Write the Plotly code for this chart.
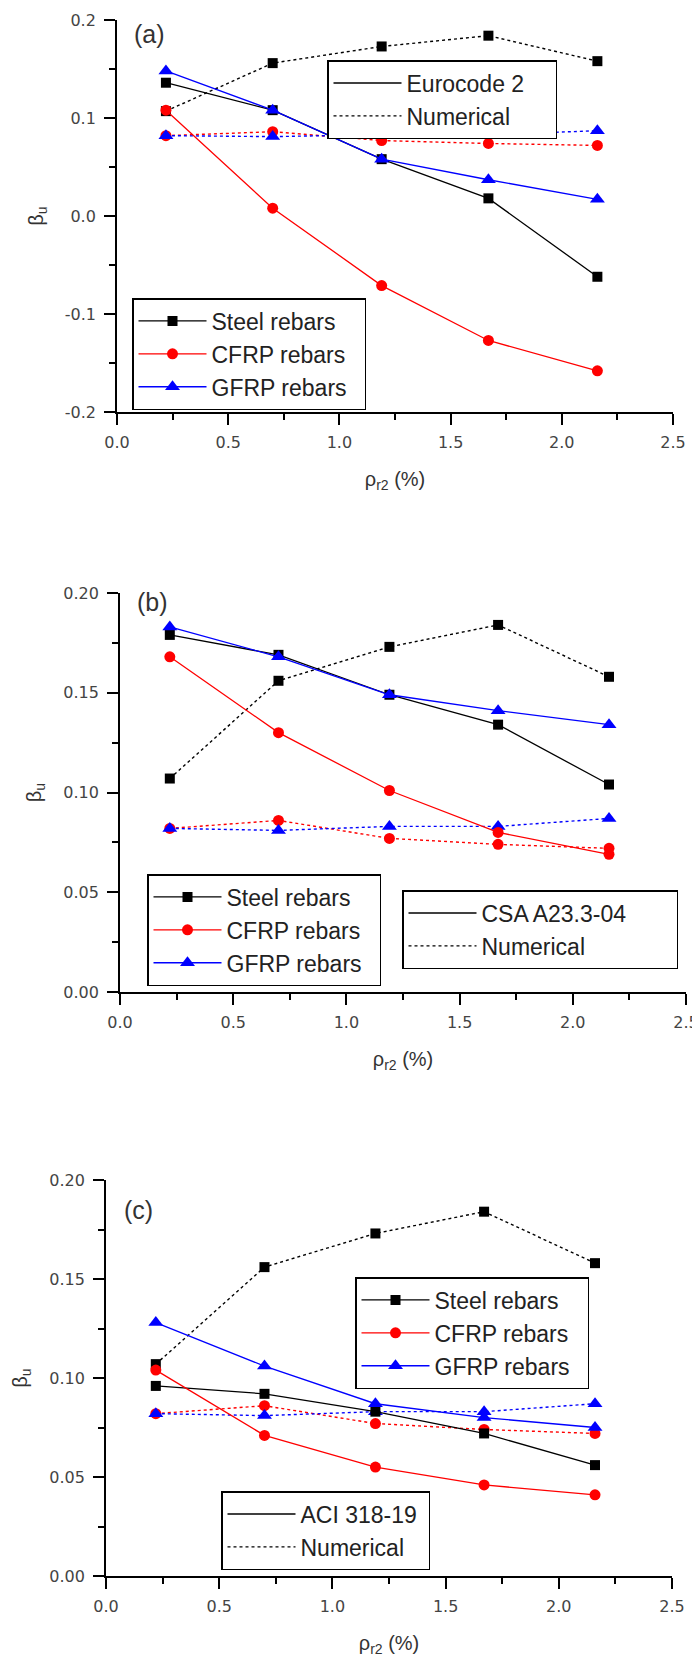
import plotly.graph_objects as go

# ---------------- data ----------------
rho = [0.22, 0.70, 1.19, 1.67, 2.16]

# Numerical results (same in every panel)
steel_num = [0.107, 0.156, 0.173, 0.184, 0.158]
cfrp_num = [0.082, 0.086, 0.077, 0.074, 0.072]
gfrp_num = [0.082, 0.081, 0.083, 0.083, 0.087]

# (a) Eurocode 2
steel_ec2 = [0.136, 0.108, 0.058, 0.018, -0.062]
cfrp_ec2 = [0.108, 0.008, -0.071, -0.127, -0.158]
gfrp_ec2 = [0.148, 0.108, 0.058, 0.037, 0.017]

# (b) CSA A23.3-04
steel_csa = [0.179, 0.169, 0.149, 0.134, 0.104]
cfrp_csa = [0.168, 0.130, 0.101, 0.080, 0.069]
gfrp_csa = [0.183, 0.168, 0.149, 0.141, 0.134]

# (c) ACI 318-19
steel_aci = [0.096, 0.092, 0.083, 0.072, 0.056]
cfrp_aci = [0.104, 0.071, 0.055, 0.046, 0.041]
gfrp_aci = [0.128, 0.106, 0.087, 0.080, 0.075]

series_names = ["Steel rebars", "CFRP rebars", "GFRP rebars"]
panel_labels = ["(a)", "(b)", "(c)"]
code_names = ["Eurocode 2", "CSA A23.3-04", "ACI 318-19"]
num_name = "Numerical"

x_ticks = [0, 0.5, 1.0, 1.5, 2.0, 2.5]
x_ticktext = ["0.0", "0.5", "1.0", "1.5", "2.0", "2.5"]
ya_ticks = [-0.2, -0.1, 0.0, 0.1, 0.2]
ya_ticktext = ["-0.2", "-0.1", "0.0", "0.1", "0.2"]
ybc_ticks = [0.0, 0.05, 0.10, 0.15, 0.20]
ybc_ticktext = ["0.00", "0.05", "0.10", "0.15", "0.20"]

# ---------------- style ----------------
OFF = 8                      # page body margin added by the browser
W, H = 700 - OFF, 1663 - OFF
FONT = "Liberation Sans, Arial, sans-serif"
WIDE = "DejaVu Sans, Verdana, sans-serif"
colors = ["#000000", "#ff0000", "#0000ff"]
symbols = ["square", "circle", "triangle-up"]
msizes = [10, 11, 13]
DOT = "3px,3px"
NB = "\u00a0"
series_pad = 2               # right padding (nbsp) in the series legends
style_pad = [4, 7, 1]        # right padding (nbsp) in the line-style legends

# pixel boxes (in page pixels) of the three plot areas: (left, right, top, bottom)
boxes = [(117, 673, 20, 412), (120, 686, 593, 992), (106, 672, 1180, 1576)]

def px(v):
    return (v - OFF) / W

def py(v):
    return 1 - (v - OFF) / H

fig = go.Figure()

code_data = [
    [steel_ec2, cfrp_ec2, gfrp_ec2],
    [steel_csa, cfrp_csa, gfrp_csa],
    [steel_aci, cfrp_aci, gfrp_aci],
]
num_data = [steel_num, cfrp_num, gfrp_num]

for p in range(3):
    xa = "x" if p == 0 else f"x{p+1}"
    ya = "y" if p == 0 else f"y{p+1}"
    leg_series = f"legend{2*p+1}" if p > 0 else "legend"
    leg_style = f"legend{2*p+2}"
    # numerical (dotted) series
    for i in range(3):
        fig.add_trace(go.Scatter(
            x=rho, y=num_data[i], mode="lines+markers", xaxis=xa, yaxis=ya,
            line=dict(color=colors[i], width=1.4, dash=DOT),
            marker=dict(symbol=symbols[i], size=msizes[i], color=colors[i]),
            showlegend=False, name=f"{series_names[i]} ({num_name})"))
    # code (solid) series
    for i in range(3):
        fig.add_trace(go.Scatter(
            x=rho, y=code_data[p][i], mode="lines+markers", xaxis=xa, yaxis=ya,
            line=dict(color=colors[i], width=1.3),
            marker=dict(symbol=symbols[i], size=msizes[i], color=colors[i]),
            name=series_names[i] + NB * series_pad, legend=leg_series))
    # line-style legend entries
    fig.add_trace(go.Scatter(
        x=[None], y=[None], mode="lines", xaxis=xa, yaxis=ya,
        line=dict(color="black", width=1.4), name=code_names[p] + NB * style_pad[p],
        legend=leg_style))
    fig.add_trace(go.Scatter(
        x=[None], y=[None], mode="lines", xaxis=xa, yaxis=ya,
        line=dict(color="black", width=1.4, dash=DOT), name=num_name, legend=leg_style))

axis_common = dict(
    showline=True, linecolor="black", linewidth=1.8, mirror=False,
    showgrid=False, zeroline=False, ticks="outside", ticklen=11, tickwidth=1.8,
    tickcolor="black", tickfont=dict(family=WIDE, size=16, color="#444"),
    automargin=False,
)

layout = dict(
    width=W, height=H, margin=dict(l=0, r=0, t=0, b=0),
    paper_bgcolor="white", plot_bgcolor="white",
    font=dict(family=FONT, color="#222"),
)

for p in range(3):
    l, r, t, b = boxes[p]
    xk = "xaxis" if p == 0 else f"xaxis{p+1}"
    yk = "yaxis" if p == 0 else f"yaxis{p+1}"
    ya_anchor = "y" if p == 0 else f"y{p+1}"
    xa_anchor = "x" if p == 0 else f"x{p+1}"
    layout[xk] = dict(
        axis_common, domain=[px(l), px(r)], anchor=ya_anchor, range=[0, 2.5],
        tickvals=x_ticks, ticktext=x_ticktext, ticklabelstandoff=4,
        minor=dict(ticks="outside", ticklen=6, tickwidth=1.8, tickcolor="black", dtick=0.25, tick0=0),
        title=dict(text="ρ<sub>r2</sub> (%)", font=dict(family=FONT, size=20, color="#333"), standoff=21),
    )
    if p == 0:
        yr, tv, tt, mdt = [-0.2, 0.2], ya_ticks, ya_ticktext, 0.05
    else:
        yr, tv, tt, mdt = [0, 0.2], ybc_ticks, ybc_ticktext, 0.025
    layout[yk] = dict(
        axis_common, domain=[py(b), py(t)], anchor=xa_anchor, range=yr,
        tickvals=tv, ticktext=tt, ticklabelstandoff=5,
        minor=dict(ticks="outside", ticklen=6, tickwidth=1.8, tickcolor="black", dtick=mdt, tick0=0),
        title=dict(text="β<sub>u</sub>", font=dict(family=FONT, size=20, color="#333"), standoff=16),
    )

leg_common = dict(
    bgcolor="white", bordercolor="black", borderwidth=1.5,
    font=dict(family=FONT, size=23, color="#222"),
    xanchor="left", yanchor="top", traceorder="normal", itemwidth=68,
    tracegroupgap=0,
)
# (left px, top px) of each legend box
leg_pos = {
    "legend": (132, 298), "legend2": (327, 60),
    "legend3": (147, 874), "legend4": (402, 890),
    "legend5": (355, 1277), "legend6": (221, 1491),
}
for k, (lx, ty) in leg_pos.items():
    layout[k] = dict(leg_common, x=px(lx), y=py(ty))

fig.update_layout(**layout)

# panel labels
label_pos = [(132, 34), (135, 602), (122, 1210)]
for p in range(3):
    lx, cy = label_pos[p]
    fig.add_annotation(text=panel_labels[p], xref="paper", yref="paper",
                       x=px(lx), y=py(cy), xanchor="left", yanchor="middle",
                       showarrow=False, font=dict(family=FONT, size=25, color="#333"))

fig.write_html("out.html")
